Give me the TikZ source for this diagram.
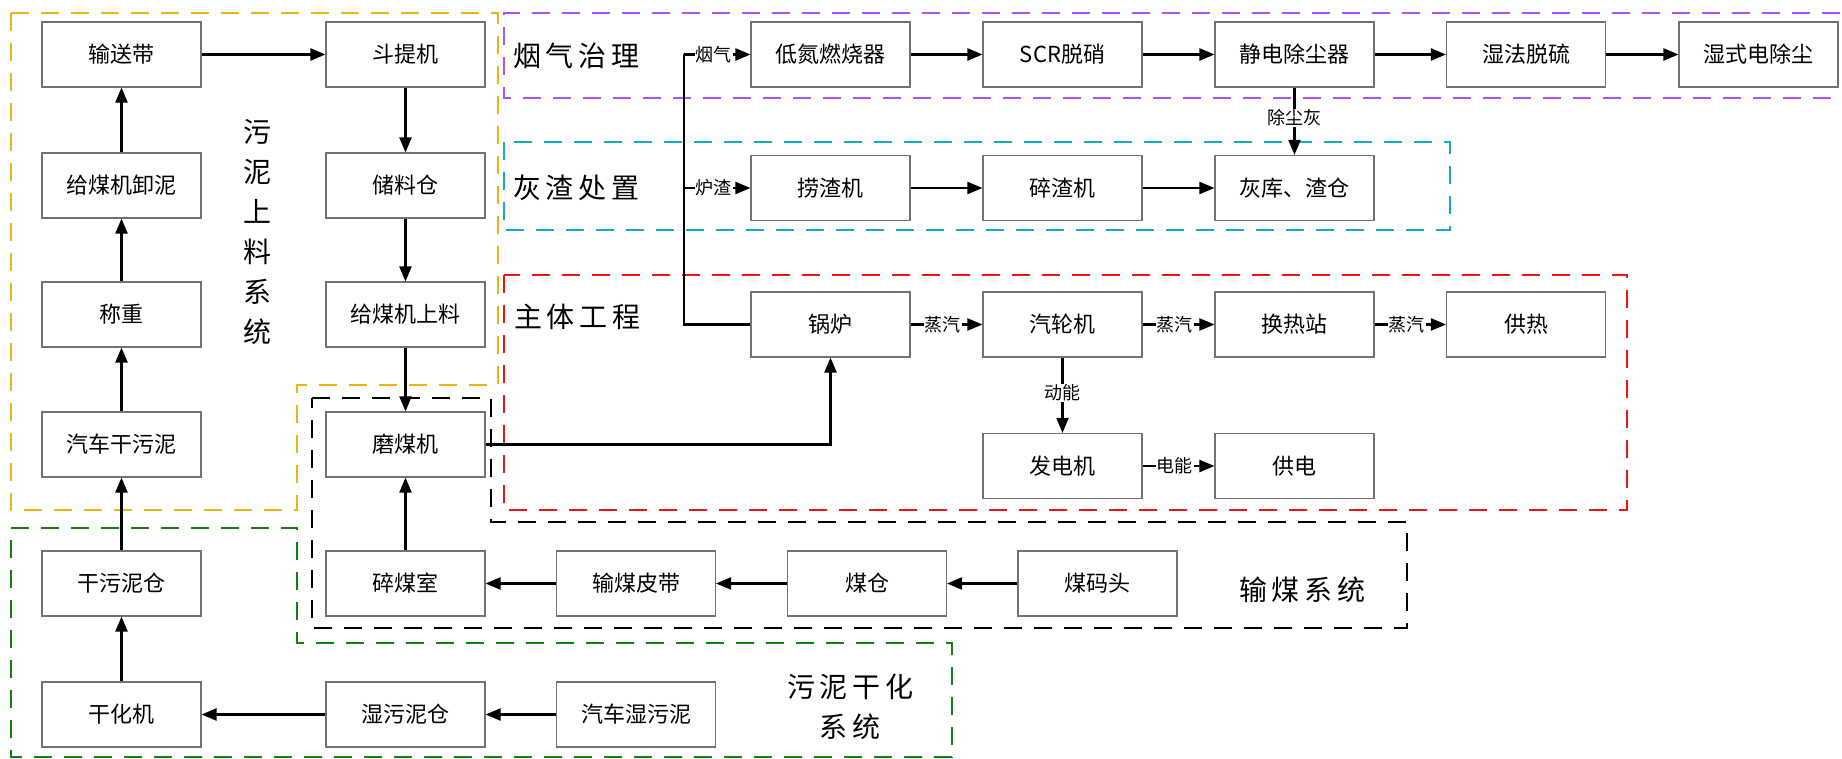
\documentclass[tikz,border=0pt]{standalone}
\usepackage{fontspec}
\setmainfont{Noto Sans CJK SC}
\usetikzlibrary{arrows.meta,calc}
\definecolor{cyel}{RGB}{232,182,20}
\definecolor{cpur}{RGB}{172,82,240}
\definecolor{ccya}{RGB}{22,168,200}
\definecolor{cred}{RGB}{236,20,20}
\definecolor{cgrn}{RGB}{22,128,22}
\begin{document}
\begin{tikzpicture}[x=1pt,y=-1pt,
  box/.style={draw=black!55,line width=1.1pt,fill=white,minimum width=159pt,minimum height=65pt,inner sep=0pt,font=\fontsize{22}{24}\selectfont},
  arr/.style={line width=2.1pt,-{Triangle[length=15pt,width=12pt]}},
  ln/.style={line width=2.1pt},
  lbl/.style={fill=white,inner sep=1pt,font=\fontsize{18}{20}\selectfont},
  grp/.style={line width=2.8pt,dash pattern=on 18pt off 12pt},
  ttl/.style={font=\fontsize{28}{40}\selectfont,inner sep=0pt,align=center}]
\useasboundingbox (0,0) rectangle (1842,759);
\fill[white] (0,0) rectangle (1842,759);
\clip (0,0) rectangle (1842,759);

% group borders
\draw[grp,cyel] (11,13) -- (498,13) -- (498,385) -- (297,385) -- (297,510) -- (11,510) -- cycle;
\draw[grp,cpur] (1870,13) -- (504,13) -- (504,98) -- (1870,98);
\draw[grp,ccya] (504,142) rectangle (1450,230);
\draw[grp,cred] (504,275) rectangle (1627,510);
\draw[grp,black] (312,398) -- (491,398) -- (491,522) -- (1407,522) -- (1407,628) -- (312,628) -- cycle;
\draw[grp,cgrn] (11,528) -- (297,528) -- (297,643) -- (952,643) -- (952,757) -- (11,757) -- cycle;

% group titles
\node[ttl] (t1) at (257,232) {污\\泥\\上\\料\\系\\统};
\node[ttl] (t2) at (576,56) {烟\,气\,治\,理};
\node[ttl] (t3) at (576,188) {灰\,渣\,处\,置};
\node[ttl] (t4) at (577,317) {主\,体\,工\,程};
\node[ttl] (t5) at (1302,590) {输\,煤\,系\,统};
\node[ttl] (t6) at (850,707) {污\,泥\,干\,化\\系\,统};

% column 1
\node[box] (ssd) at (121.5,54.5) {输送带};
\node[box] (gmx) at (121.5,185.5) {给煤机卸泥};
\node[box] (cz)  at (121.5,314.5) {称重};
\node[box] (qgw) at (121.5,444.5) {汽车干污泥};
\node[box] (gwc) at (121.5,583.5) {干污泥仓};
\node[box] (ghj) at (121.5,714.5) {干化机};
% column 2
\node[box] (dtj) at (405.5,54.5) {斗提机};
\node[box] (clc) at (405.5,185.5) {储料仓};
\node[box] (gms) at (405.5,314.5) {给煤机上料};
\node[box] (mmj) at (405.5,444.5) {磨煤机};
\node[box] (smroom) at (405.5,583.5) {碎煤室};
\node[box] (swc) at (405.5,714.5) {湿污泥仓};
% column 3
\node[box] (smpd) at (636,583.5) {输煤皮带};
\node[box] (qsw) at (636,714.5) {汽车湿污泥};
\node[box] (mc)  at (867,583.5) {煤仓};
\node[box] (mmt) at (1097.5,583.5) {煤码头};
% flue gas row
\node[box] (ddr) at (830.5,54.5) {低氮燃烧器};
\node[box] (scr) at (1062.5,54.5) {SCR脱硝};
\node[box] (jdc) at (1294.5,54.5) {静电除尘器};
\node[box] (sfl) at (1526,54.5) {湿法脱硫};
\node[box] (ssc) at (1758.5,54.5) {湿式电除尘};
% ash row
\node[box] (lzj) at (830.5,188) {捞渣机};
\node[box] (szj) at (1062.5,188) {碎渣机};
\node[box] (hkz) at (1294.5,188) {灰库、渣仓};
% main
\node[box] (gl)  at (830.5,324.5) {锅炉};
\node[box] (qlj) at (1062.5,324.5) {汽轮机};
\node[box] (hrz) at (1294.5,324.5) {换热站};
\node[box] (gr)  at (1526,324.5) {供热};
\node[box] (fdj) at (1062.5,466) {发电机};
\node[box] (gd)  at (1294.5,466) {供电};

% sludge feeding
\draw[arr] (ssd) -- (dtj);
\draw[arr] (dtj) -- (clc);
\draw[arr] (clc) -- (gms);
\draw[arr] (gms) -- (mmj);
\draw[arr] (gmx) -- (ssd);
\draw[arr] (cz) -- (gmx);
\draw[arr] (qgw) -- (cz);
\draw[arr] (gwc) -- (qgw);
\draw[arr] (ghj) -- (gwc);
\draw[arr] (swc) -- (ghj);
\draw[arr] (qsw) -- (swc);
% coal
\draw[arr] (smroom) -- (mmj);
\draw[arr] (smpd) -- (smroom);
\draw[arr] (mc) -- (smpd);
\draw[arr] (mmt) -- (mc);
\draw[arr] (mmj.east) -| (gl.south);
% boiler outputs
\coordinate (jbot) at (684,324.5);
\coordinate (jtop) at (684,54.5);
\coordinate (jmid) at (684,188);
\draw[ln] (gl.west) -- (jbot) -- (jtop);
\draw[arr] (jtop) -- node[lbl,pos=0.45]{烟气} (ddr.west);
\draw[arr] (jmid) -- node[lbl,pos=0.45]{炉渣} (lzj.west);
\draw[arr] (ddr) -- (scr);
\draw[arr] (scr) -- (jdc);
\draw[arr] (jdc) -- (sfl);
\draw[arr] (sfl) -- (ssc);
\draw[arr] (jdc) -- node[lbl,pos=0.45]{除尘灰} (hkz);
\draw[arr] (lzj) -- (szj);
\draw[arr] (szj) -- (hkz);
% main flow
\draw[arr] (gl) -- node[lbl,pos=0.45]{蒸汽} (qlj);
\draw[arr] (qlj) -- node[lbl,pos=0.45]{蒸汽} (hrz);
\draw[arr] (hrz) -- node[lbl,pos=0.45]{蒸汽} (gr);
\draw[arr] (qlj) -- node[lbl,pos=0.47]{动能} (fdj);
\draw[arr] (fdj) -- node[lbl,pos=0.45]{电能} (gd);
\end{tikzpicture}
\end{document}
